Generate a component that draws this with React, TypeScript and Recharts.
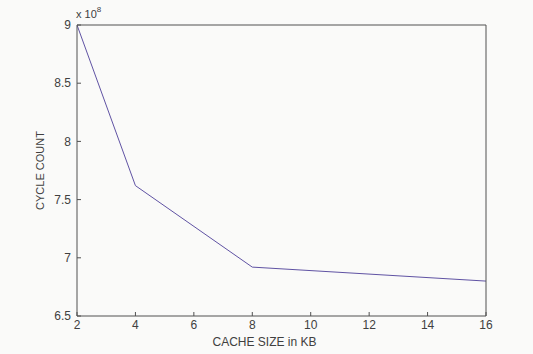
import React from 'react';
import { LineChart, Line, XAxis, YAxis, Label } from 'recharts';

const cacheSizes = [2, 4, 8, 16];
const cycleCounts = [900000000, 762000000, 692000000, 680000000];
const xTicks = [2, 4, 6, 8, 10, 12, 14, 16];
const yTicks = [650000000, 700000000, 750000000, 800000000, 850000000, 900000000];

const data = cacheSizes.map((c, i) => ({ size: c, cycles: cycleCounts[i] }));

const FONT = '"Liberation Sans", Arial, Helvetica, sans-serif';
const AXIS = '#505050';
const TEXT = '#404040';
const BG = '#fafaf9';

const ExpLabel = (props: any) => {
  const vb = props.viewBox || {};
  return (
    <text x={vb.x - 1} y={vb.y - 6} fill={TEXT} fontSize={11} fontFamily={FONT}>
      x 10
      <tspan dy={-6} fontSize={8}>8</tspan>
    </text>
  );
};

export default function App() {
  return (
    <div style={{ position: 'absolute', left: 0, top: 0, width: 533, height: 354, background: BG }}>
      <LineChart
        width={533}
        height={354}
        data={data}
        margin={{ top: 24, right: 46, bottom: 8, left: 37 }}
        style={{ background: BG }}
      >
        <XAxis
          xAxisId="b"
          dataKey="size"
          type="number"
          domain={[2, 16]}
          ticks={xTicks}
          orientation="bottom"
          height={30}
          stroke={AXIS}
          tickSize={-4}
          tickMargin={8}
          tick={{ fill: TEXT, fontSize: 12, fontFamily: FONT }}
          allowDataOverflow
        >
          <Label
            value="CACHE SIZE in KB"
            position="center"
            dx={-17}
            dy={11}
            fill={TEXT}
            fontSize={12}
            fontFamily={FONT}
          />
        </XAxis>
        <XAxis
          xAxisId="t"
          dataKey="size"
          type="number"
          domain={[2, 16]}
          ticks={xTicks}
          orientation="top"
          height={1}
          stroke={AXIS}
          tickSize={-4}
          tick={false}
          allowDataOverflow
          label={{ content: ExpLabel }}
        />
        <YAxis
          yAxisId="l"
          type="number"
          domain={[650000000, 900000000]}
          ticks={yTicks}
          orientation="left"
          width={40}
          stroke={AXIS}
          tickSize={-4}
          tickMargin={10}
          tick={{ fill: TEXT, fontSize: 12, fontFamily: FONT }}
          tickFormatter={(v: number) => String(v / 100000000)}
          allowDataOverflow
        >
          <Label
            value="CYCLE COUNT"
            angle={-90}
            position="center"
            dx={-17}
            fill={TEXT}
            fontSize={11}
            fontFamily={FONT}
          />
        </YAxis>
        <YAxis
          yAxisId="r"
          type="number"
          domain={[650000000, 900000000]}
          ticks={yTicks}
          orientation="right"
          width={1}
          stroke={AXIS}
          tickSize={-4}
          tick={false}
          allowDataOverflow
        />
        <Line
          xAxisId="b"
          yAxisId="l"
          dataKey="cycles"
          type="linear"
          stroke="#5f52a3"
          strokeWidth={1}
          dot={false}
          isAnimationActive={false}
        />
      </LineChart>
    </div>
  );
}
